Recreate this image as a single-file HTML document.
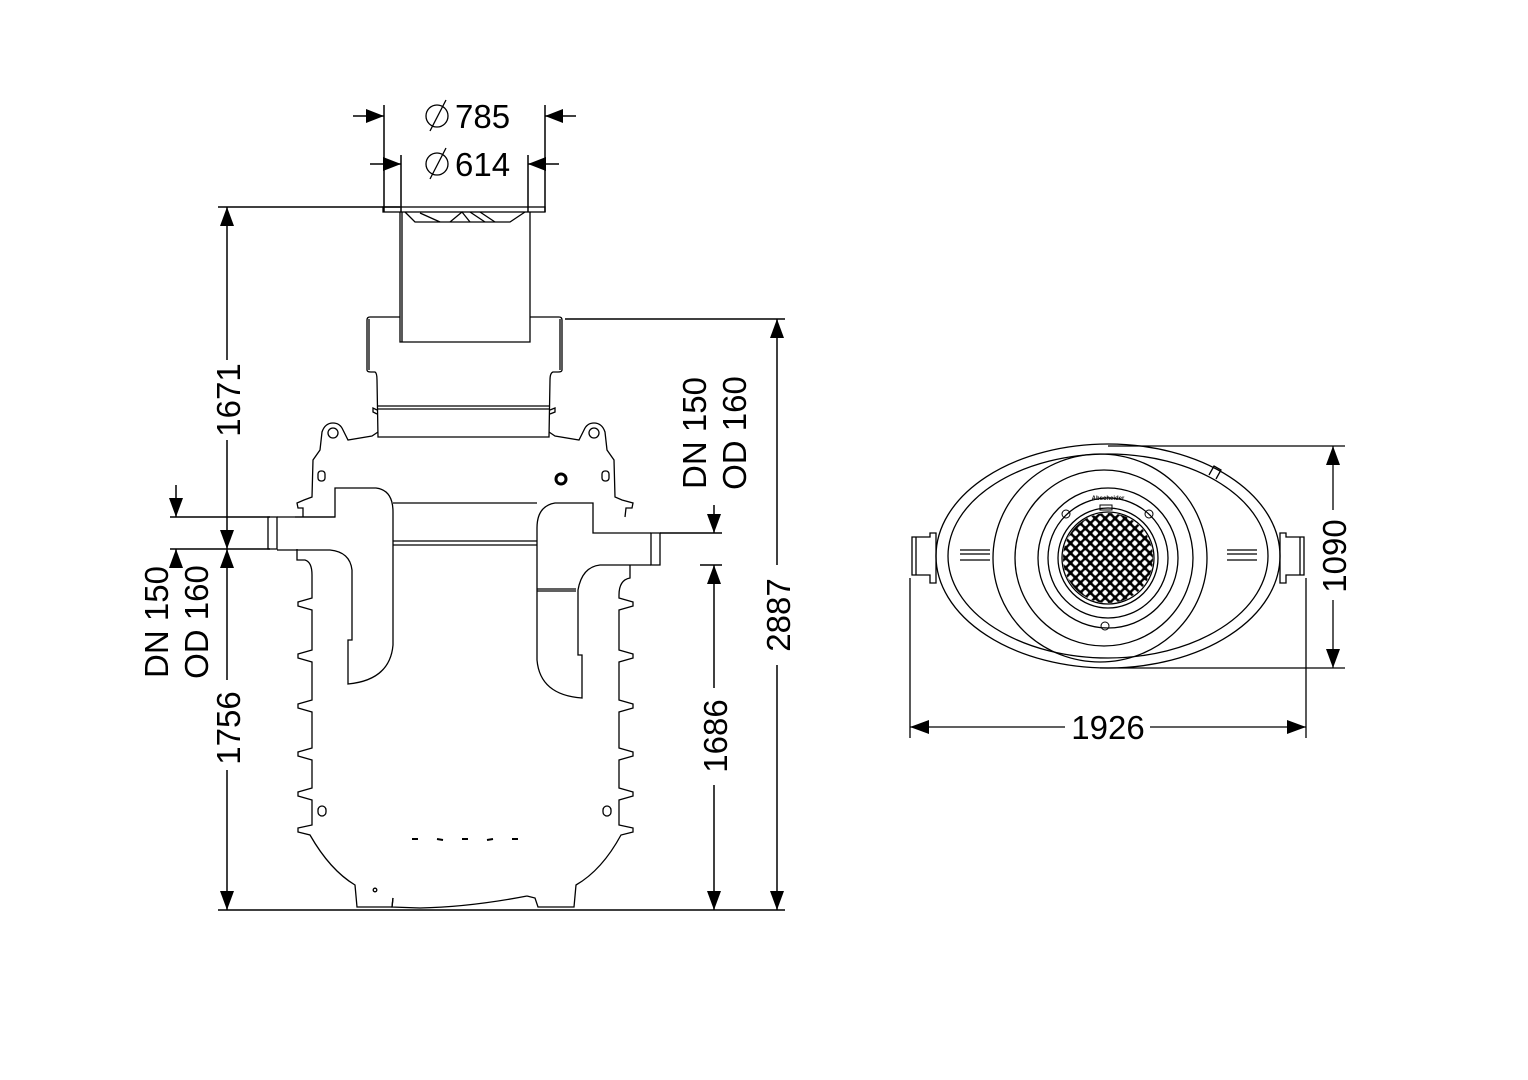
<!DOCTYPE html>
<html><head><meta charset="utf-8"><style>
html,body{margin:0;padding:0;background:#fff;}
svg{display:block;}
text{font-family:"Liberation Sans",sans-serif;fill:#000;}
</style></head><body>
<svg width="1528" height="1080" viewBox="0 0 1528 1080" xmlns="http://www.w3.org/2000/svg">
<g stroke="#000" stroke-width="1.5" fill="none">
<line x1="384" y1="105" x2="384" y2="212"/>
<line x1="545" y1="105" x2="545" y2="212"/>
<line x1="401" y1="155" x2="401" y2="212"/>
<line x1="528" y1="155" x2="528" y2="212"/>
<line x1="353" y1="116" x2="384" y2="116"/>
<line x1="576" y1="116" x2="545" y2="116"/>
<line x1="370" y1="164" x2="401" y2="164"/>
<line x1="559" y1="164" x2="528" y2="164"/>
</g>
<g fill="#000">
<path d="M384,116 L366,109 L366,123 z"/>
<path d="M545,116 L563,109 L563,123 z"/>
<path d="M401,164 L383,157 L383,171 z"/>
<path d="M528,164 L546,157 L546,171 z"/>
</g>
<g stroke="#000" stroke-width="1.3" fill="none">
<circle cx="437" cy="116" r="11"/><line x1="430" y1="131" x2="446" y2="100"/>
<circle cx="437" cy="164" r="11"/><line x1="430" y1="179" x2="446" y2="148"/>
</g>
<text x="455" y="128" font-size="33">785</text>
<text x="455" y="176" font-size="33">614</text>

<g stroke="#000" stroke-width="1.5" fill="none">
<line x1="218" y1="207" x2="400" y2="207"/>
<line x1="227" y1="207" x2="227" y2="360"/>
<line x1="227" y1="440" x2="227" y2="680"/>
<line x1="227" y1="770" x2="227" y2="910"/>
<line x1="170" y1="517" x2="270" y2="517"/>
<line x1="170" y1="549" x2="270" y2="549"/>
<line x1="176" y1="485" x2="176" y2="517"/>
<line x1="176" y1="549" x2="176" y2="568"/>
<line x1="218" y1="910" x2="785" y2="910"/>
<line x1="565" y1="319" x2="785" y2="319"/>
<line x1="777" y1="319" x2="777" y2="565"/>
<line x1="777" y1="665" x2="777" y2="910"/>
<line x1="660" y1="533" x2="722" y2="533"/>
<line x1="714" y1="505" x2="714" y2="533"/>
<line x1="714" y1="565" x2="714" y2="688"/>
<line x1="714" y1="785" x2="714" y2="910"/>
<line x1="700" y1="565" x2="722" y2="565"/>
</g>
<g fill="#000">
<path d="M227,207 L220,226 L234,226 z"/>
<path d="M227,549 L220,530 L234,530 z"/>
<path d="M227,549 L220,568 L234,568 z"/>
<path d="M227,910 L220,891 L234,891 z"/>
<path d="M176,517 L169,498 L183,498 z"/>
<path d="M176,549 L169,568 L183,568 z"/>
<path d="M777,319 L770,338 L784,338 z"/>
<path d="M777,910 L770,891 L784,891 z"/>
<path d="M714,533 L707,514 L721,514 z"/>
<path d="M714,565 L707,584 L721,584 z"/>
<path d="M714,910 L707,891 L721,891 z"/>
</g>
<g font-size="33">
<text transform="translate(240,400) rotate(-90)" text-anchor="middle">1671</text>
<text transform="translate(240,728) rotate(-90)" text-anchor="middle">1756</text>
<text transform="translate(168,622) rotate(-90)" text-anchor="middle">DN 150</text>
<text transform="translate(208,622) rotate(-90)" text-anchor="middle">OD 160</text>
<text transform="translate(706,433) rotate(-90)" text-anchor="middle">DN 150</text>
<text transform="translate(746,433) rotate(-90)" text-anchor="middle">OD 160</text>
<text transform="translate(727,736) rotate(-90)" text-anchor="middle">1686</text>
<text transform="translate(790,615) rotate(-90)" text-anchor="middle">2887</text>
</g>

<g stroke="#000" stroke-width="1.3" fill="none">
<rect x="383" y="207" width="162" height="5"/>
<path d="M400,212 L400,342 L530,342 L530,212"/>
<line x1="402" y1="212" x2="402" y2="342"/>
<path d="M405,212 L415,222 L510,222 L525,212"/>
<path d="M420,213 L440,222 M450,222 L462,212 L470,222 M480,212 L495,222 M470,212 L485,222"/>
<path d="M400,317 L370,317 Q367,317 367,320 L367,370 Q367,372 371,372 L375,372 Q377,373 377,380 L378,437 L549,437 L550,380 Q550,373 553,372 L558,372 Q562,372 562,370 L562,320 Q562,317 559,317 L530,317"/>
<path d="M369,319 L369,370 M560,319 L560,370"/>
<line x1="378" y1="406" x2="549" y2="406"/>
<line x1="378" y1="409" x2="549" y2="409"/>
<path d="M377,410 L373,408 L373,412 L377,414 M550,410 L555,408 L555,412 L550,414"/>
<path d="M378,432 L372,436 L348,440 L343,430 Q340,423 333,423 Q325,423 322,432 L320,450 L313,460 L312,497 L304,500 L297,503 L298,508 L303,508 L303,517"/>
<path d="M549,432 L555,436 L579,440 L584,430 Q587,423 594,423 Q602,423 605,432 L607,450 L614,460 L615,497 L622,500 L633,503 L632,508 L626,508 L625,517"/>
<circle cx="333" cy="433" r="5"/><circle cx="594" cy="433" r="5"/>
<rect x="318" y="471" width="7" height="10" rx="3"/>
<rect x="602" y="471" width="7" height="10" rx="3"/>
<circle cx="561" cy="479" r="5" stroke-width="3"/>
<line x1="393" y1="503" x2="537" y2="503"/>
<line x1="393" y1="541" x2="537" y2="541"/>
<line x1="393" y1="545" x2="537" y2="545"/>
<path d="M268,517 L268,549 L277,549 L277,517 z"/>
<path d="M277,517 L335,517 L335,488 L376,488 Q393,490 393,512 L393,645 Q390,680 348,684 L348,640 L352,640 L352,570 Q350,552 330,550 L277,550"/>
<line x1="335" y1="517" x2="295" y2="517"/>
<path d="M660,533 L660,565 L651,565 L651,533 z"/>
<path d="M651,533 L593,533 L593,503 L555,503 Q537,506 537,528 L537,660 Q540,695 582,698 L582,655 L578,655 L578,590 Q582,567 600,565 L651,565"/>
<line x1="537" y1="589" x2="576" y2="589"/>
<line x1="537" y1="591" x2="576" y2="591"/>
<path d="M297,549 L297,560 L305,560 Q312,562 312,575 L312,598 L298,602 L298,606 L312,610 L312,650 L298,654 L298,658 L312,662 L312,700 L298,704 L298,708 L312,712 L312,748 L298,752 L298,756 L312,760 L312,788 L298,792 L298,796 L312,800 L312,825 L298,828 L298,832 L310,835 Q330,870 355,885 L357,907 L392,907 L393,898"/>
<path d="M630,565 L630,578 Q619,580 619,595 L619,598 L633,602 L633,606 L619,610 L619,650 L633,654 L633,658 L619,662 L619,700 L633,704 L633,708 L619,712 L619,748 L633,752 L633,756 L619,760 L619,788 L633,792 L633,796 L619,800 L619,825 L633,828 L633,832 L621,835 Q602,870 576,885 L574,907 L538,907 L535,898 L527,896"/>
<path d="M393,898 L392,907 L420,908 Q470,907 527,896"/>
<rect x="318" y="806" width="8" height="10" rx="4"/>
<rect x="603" y="806" width="8" height="10" rx="4"/>
<circle cx="375" cy="890" r="1.8"/>
</g>
<g stroke="#000" stroke-width="2">
<line x1="412" y1="839" x2="418" y2="839"/><line x1="437" y1="839" x2="443" y2="840"/><line x1="462" y1="839" x2="468" y2="839"/><line x1="487" y1="840" x2="493" y2="839"/><line x1="512" y1="839" x2="518" y2="839"/>
</g>

<g stroke="#000" stroke-width="1.3" fill="none">
<ellipse cx="1108" cy="556" rx="172" ry="112"/>
<ellipse cx="1108" cy="556" rx="160" ry="102"/>
<path d="M1108,446 L1345,446"/>
<path d="M1100,668 L1345,668"/>
<ellipse cx="1100" cy="558" rx="107" ry="104"/>
<ellipse cx="1104" cy="558" rx="89" ry="88"/>
<circle cx="1108" cy="558" r="70"/>
<circle cx="1108" cy="558" r="60"/>
<circle cx="1108" cy="558" r="50"/>
<circle cx="1108" cy="558" r="46"/>
<path d="M936,533 L936,583 L930,583 L930,575 L912,575 L912,537 L930,537 L930,533 z"/>
<line x1="916" y1="537" x2="916" y2="575"/>
<path d="M1280,533 L1280,583 L1286,583 L1286,575 L1304,575 L1304,537 L1286,537 L1286,533 z"/>
<line x1="1300" y1="537" x2="1300" y2="575"/>
<line x1="960" y1="550" x2="990" y2="550"/><line x1="960" y1="554" x2="990" y2="554"/><line x1="960" y1="560" x2="990" y2="560"/>
<line x1="1227" y1="550" x2="1257" y2="550"/><line x1="1227" y1="554" x2="1257" y2="554"/><line x1="1227" y1="560" x2="1257" y2="560"/>
<path d="M1209,475 L1214,466 L1221,470 L1216,479"/>
<line x1="1333" y1="446" x2="1333" y2="510"/>
<line x1="1333" y1="600" x2="1333" y2="668"/>
<line x1="910" y1="578" x2="910" y2="738"/>
<line x1="1306" y1="578" x2="1306" y2="738"/>
<line x1="910" y1="727" x2="1065" y2="727"/>
<line x1="1150" y1="727" x2="1306" y2="727"/>
</g>
<defs>
<pattern id="gp" width="7" height="7" patternUnits="userSpaceOnUse" patternTransform="rotate(45 1108 558)">
<rect width="7" height="7" fill="#000"/><rect x="1.2" y="1.2" width="4.6" height="4.6" rx="1" fill="#fff"/>
</pattern>
</defs>
<circle cx="1108" cy="558" r="45" fill="url(#gp)"/>
<g stroke="#000" stroke-width="1" fill="none">
<circle cx="1066" cy="514" r="4"/><circle cx="1149" cy="514" r="4"/><circle cx="1105" cy="626" r="4"/>
<rect x="1100" y="505" width="12" height="5"/>
</g>
<text x="1108" y="500" font-size="6" text-anchor="middle" font-weight="bold">Abscheider</text>
<g fill="#000">
<path d="M1333,446 L1326,465 L1340,465 z"/>
<path d="M1333,668 L1326,649 L1340,649 z"/>
<path d="M910,727 L929,720 L929,734 z"/>
<path d="M1306,727 L1287,720 L1287,734 z"/>
</g>
<text x="1108" y="739" font-size="33" text-anchor="middle">1926</text>
<text transform="translate(1346,556) rotate(-90)" text-anchor="middle" font-size="33">1090</text>
</svg>
</body></html>
